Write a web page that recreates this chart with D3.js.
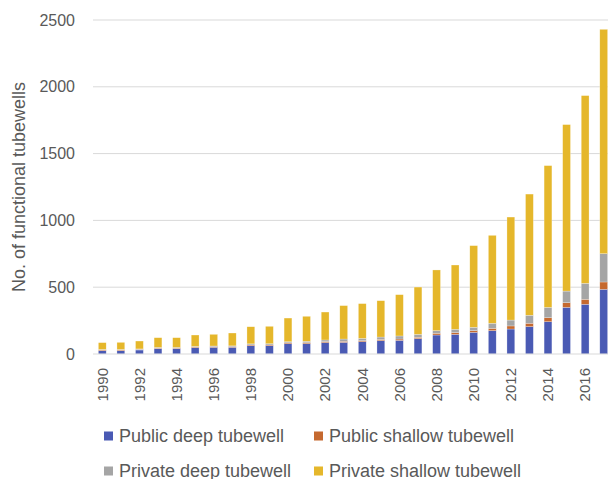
<!DOCTYPE html>
<html>
<head>
<meta charset="utf-8">
<script src="https://cdn.jsdelivr.net/npm/d3@7"></script>
<style>
  body { margin: 0; background: #fff; }
  svg { display: block; font-family: "Liberation Sans", Arial, sans-serif; }
</style>
</head>
<body>
<div id="chart"></div>
<script>
// years on the x axis
const years = d3.range(1990, 2018);
const tickYears = years.filter(y => y % 2 === 0);
const yTicks = [0, 500, 1000, 1500, 2000, 2500];

// tubewell counts per year
const publicDeep = [25, 25, 30, 40, 40, 47, 50, 50, 62, 62, 77, 77, 85, 87, 92, 100, 102, 115, 142, 147, 162, 175, 187, 205, 242, 349, 372, 484];
const publicShallow = [5, 5, 4, 4, 4, 5, 5, 5, 6, 6, 7, 7, 8, 8, 8, 9, 10, 10, 13, 13, 13, 17, 23, 25, 30, 35, 37, 55];
const privateDeep = [4, 4, 4, 5, 5, 5, 5, 6, 8, 9, 8, 11, 12, 17, 17, 18, 23, 22, 20, 25, 25, 38, 44, 60, 77, 87, 120, 212];
const privateShallow = [51, 53, 59, 73, 73, 85, 87, 96, 128, 130, 177, 187, 209, 250, 260, 272, 309, 354, 454, 481, 611, 658, 771, 907, 1061, 1246, 1405, 1679];

const seriesNames = ["Public deep tubewell", "Public shallow tubewell", "Private deep tubewell", "Private shallow tubewell"];
const seriesColors = ["#4a5ab4", "#c5692f", "#a5a5a5", "#e5b72b"];

const width = 608, height = 479;

// build table for the stack
const table = years.map((y, i) => ({
    year: y,
    "Public deep tubewell": publicDeep[i],
    "Public shallow tubewell": publicShallow[i],
    "Private deep tubewell": privateDeep[i],
    "Private shallow tubewell": privateShallow[i]
}));
const stacked = d3.stack().keys(seriesNames)(table);

const x = d3.scaleBand().domain(years).range([93, 613]).paddingInner(0.58).paddingOuter(0.29);
const y = d3.scaleLinear().domain([0, 2500]).range([354, 20]);
const color = d3.scaleOrdinal(seriesNames, seriesColors);

const svg = d3.select("#chart").append("svg")
    .attr("width", width)
    .attr("height", height);

// gridlines
svg.append("g")
    .selectAll("line")
    .data(yTicks.filter(d => d > 0))
    .join("line")
    .attr("x1", 93).attr("x2", width)
    .attr("y1", d => y(d)).attr("y2", d => y(d))
    .attr("stroke", "#d9d9d9")
    .attr("stroke-width", 1);

// bars
svg.append("g")
    .selectAll("g")
    .data(stacked)
    .join("g")
    .attr("fill", d => color(d.key))
    .selectAll("rect")
    .data(d => d)
    .join("rect")
    .attr("x", d => x(d.data.year))
    .attr("width", x.bandwidth())
    .attr("y", d => y(d[1]))
    .attr("height", d => y(d[0]) - y(d[1]))
    .attr("stroke", "#fff")
    .attr("stroke-opacity", 0.5)
    .attr("stroke-width", 0.5);

// x axis baseline
svg.append("line")
    .attr("x1", 93).attr("x2", width)
    .attr("y1", y(0)).attr("y2", y(0))
    .attr("stroke", "#d9d9d9")
    .attr("stroke-width", 1);

// y axis
const yAxis = svg.append("g")
    .attr("transform", "translate(93,0)")
    .call(d3.axisLeft(y).tickValues(yTicks).tickFormat(d3.format("d")).tickSize(0).tickPadding(18));
yAxis.select(".domain").remove();
yAxis.selectAll("text")
    .attr("fill", "#595959")
    .attr("font-size", 16)
    .attr("font-family", "Liberation Sans, Arial, sans-serif");

// x axis labels, rotated
const xAxis = svg.append("g")
    .attr("transform", `translate(0,${y(0)})`)
    .call(d3.axisBottom(x).tickValues(tickYears).tickFormat(d3.format("d")).tickSize(0).tickPadding(0));
xAxis.select(".domain").remove();
xAxis.selectAll("text")
    .attr("fill", "#595959")
    .attr("font-size", 15)
    .attr("font-family", "Liberation Sans, Arial, sans-serif")
    .attr("text-anchor", "end")
    .attr("dy", "0.35em")
    .attr("transform", "translate(0,14) rotate(-90)")
    .attr("y", 0)
    .attr("x", 0);

// y axis title
svg.append("text")
    .attr("transform", `translate(25,${y(1250)}) rotate(-90)`)
    .attr("text-anchor", "middle")
    .attr("fill", "#595959")
    .attr("font-size", 18)
    .text("No. of functional tubewells");

// legend, two rows of two (second row is cut by the bottom edge, as in the original)
const legendPos = [[104, 436], [314, 436], [104, 471], [314, 471]];
const legend = svg.append("g")
    .selectAll("g")
    .data(seriesNames)
    .join("g")
    .attr("transform", (d, i) => `translate(${legendPos[i][0]},${legendPos[i][1]})`);
legend.append("rect")
    .attr("x", 0).attr("y", -4.5)
    .attr("width", 9).attr("height", 9)
    .attr("fill", d => color(d));
legend.append("text")
    .attr("x", 15)
    .attr("y", 5.5)
    .attr("fill", "#595959")
    .attr("font-size", 18)
    .text(d => d);
</script>
</body>
</html>
